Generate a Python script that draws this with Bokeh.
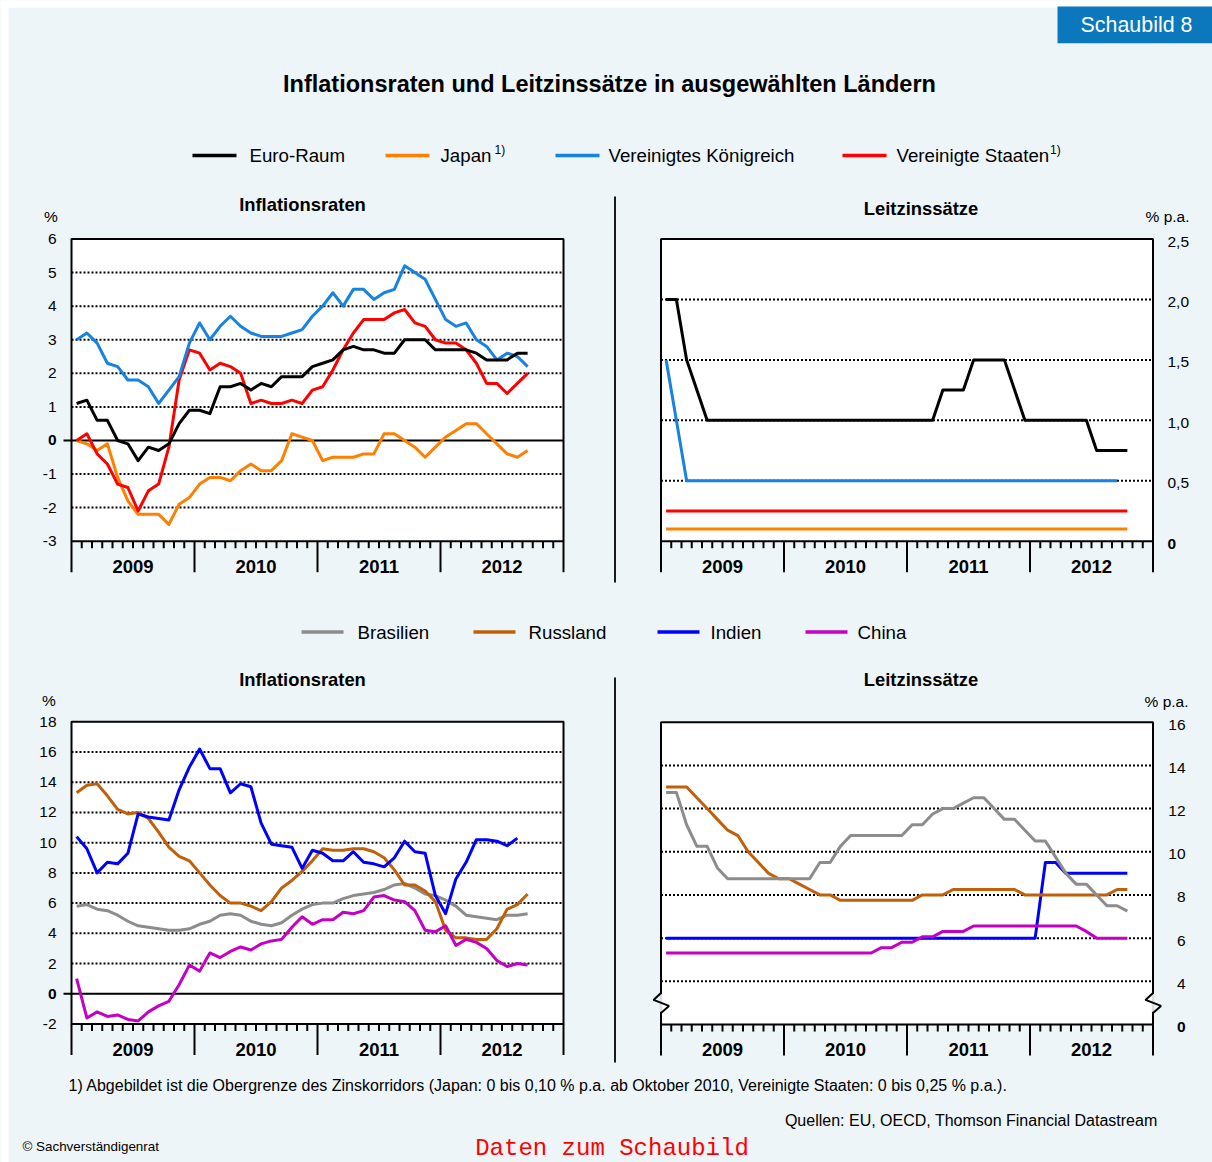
from bokeh.plotting import figure
from bokeh.models import Range1d
from bokeh.core.properties import value
from bokeh.embed import file_html
from bokeh.resources import INLINE

# ---------------------------------------------------------------- data
years = [2009, 2010, 2011, 2012, 2013]
year_labels = ["2009", "2010", "2011", "2012"]

# Inflation rates, monthly from January 2009 (%)
euro_infl = [1.1, 1.2, 0.6, 0.6, 0.0, -0.1, -0.6, -0.2, -0.3, -0.1, 0.5, 0.9,
             0.9, 0.8, 1.6, 1.6, 1.7, 1.5, 1.7, 1.6, 1.9, 1.9, 1.9, 2.2,
             2.3, 2.4, 2.7, 2.8, 2.7, 2.7, 2.6, 2.6, 3.0, 3.0, 3.0, 2.7,
             2.7, 2.7, 2.7, 2.6, 2.4, 2.4, 2.4, 2.6, 2.6]
japan_infl = [0.0, -0.1, -0.3, -0.1, -1.1, -1.8, -2.2, -2.2, -2.2, -2.5, -1.9, -1.7,
              -1.3, -1.1, -1.1, -1.2, -0.9, -0.7, -0.9, -0.9, -0.6, 0.2, 0.1, 0.0,
              -0.6, -0.5, -0.5, -0.5, -0.4, -0.4, 0.2, 0.2, 0.0, -0.2, -0.5, -0.2,
              0.1, 0.3, 0.5, 0.5, 0.2, -0.1, -0.4, -0.5, -0.3]
uk_infl = [3.0, 3.2, 2.9, 2.3, 2.2, 1.8, 1.8, 1.6, 1.1, 1.5, 1.9, 2.9,
           3.5, 3.0, 3.4, 3.7, 3.4, 3.2, 3.1, 3.1, 3.1, 3.2, 3.3, 3.7,
           4.0, 4.4, 4.0, 4.5, 4.5, 4.2, 4.4, 4.5, 5.2, 5.0, 4.8, 4.2,
           3.6, 3.4, 3.5, 3.0, 2.8, 2.4, 2.6, 2.5, 2.2]
us_infl = [0.0, 0.2, -0.4, -0.7, -1.3, -1.4, -2.1, -1.5, -1.3, -0.2, 1.8, 2.7,
           2.6, 2.1, 2.3, 2.2, 2.0, 1.1, 1.2, 1.1, 1.1, 1.2, 1.1, 1.5,
           1.6, 2.1, 2.7, 3.2, 3.6, 3.6, 3.6, 3.8, 3.9, 3.5, 3.4, 3.0,
           2.9, 2.9, 2.7, 2.3, 1.7, 1.7, 1.4, 1.7, 2.0]

# Policy rates, monthly from January 2009 (% p.a.)
euro_rate = [2.0, 2.0, 1.5, 1.25, 1.0, 1.0, 1.0, 1.0, 1.0, 1.0, 1.0, 1.0,
             1.0, 1.0, 1.0, 1.0, 1.0, 1.0, 1.0, 1.0, 1.0, 1.0, 1.0, 1.0,
             1.0, 1.0, 1.0, 1.25, 1.25, 1.25, 1.5, 1.5, 1.5, 1.5, 1.25, 1.0,
             1.0, 1.0, 1.0, 1.0, 1.0, 1.0, 0.75, 0.75, 0.75, 0.75]
japan_rate = [0.1, 0.1, 0.1, 0.1, 0.1, 0.1, 0.1, 0.1, 0.1, 0.1, 0.1, 0.1,
              0.1, 0.1, 0.1, 0.1, 0.1, 0.1, 0.1, 0.1, 0.1, 0.1, 0.1, 0.1,
              0.1, 0.1, 0.1, 0.1, 0.1, 0.1, 0.1, 0.1, 0.1, 0.1, 0.1, 0.1,
              0.1, 0.1, 0.1, 0.1, 0.1, 0.1, 0.1, 0.1, 0.1, 0.1]
uk_rate = [1.5, 1.0, 0.5, 0.5, 0.5, 0.5, 0.5, 0.5, 0.5, 0.5, 0.5, 0.5,
           0.5, 0.5, 0.5, 0.5, 0.5, 0.5, 0.5, 0.5, 0.5, 0.5, 0.5, 0.5,
           0.5, 0.5, 0.5, 0.5, 0.5, 0.5, 0.5, 0.5, 0.5, 0.5, 0.5, 0.5,
           0.5, 0.5, 0.5, 0.5, 0.5, 0.5, 0.5, 0.5, 0.5]
us_rate = [0.25, 0.25, 0.25, 0.25, 0.25, 0.25, 0.25, 0.25, 0.25, 0.25, 0.25, 0.25,
           0.25, 0.25, 0.25, 0.25, 0.25, 0.25, 0.25, 0.25, 0.25, 0.25, 0.25, 0.25,
           0.25, 0.25, 0.25, 0.25, 0.25, 0.25, 0.25, 0.25, 0.25, 0.25, 0.25, 0.25,
           0.25, 0.25, 0.25, 0.25, 0.25, 0.25, 0.25, 0.25, 0.25, 0.25]

brazil_infl = [5.8, 5.9, 5.6, 5.5, 5.2, 4.8, 4.5, 4.4, 4.3, 4.2, 4.2, 4.3,
               4.6, 4.8, 5.2, 5.3, 5.2, 4.8, 4.6, 4.5, 4.7, 5.2, 5.6, 5.9,
               6.0, 6.0, 6.3, 6.5, 6.6, 6.7, 6.9, 7.2, 7.3, 7.0, 6.6, 6.5,
               6.2, 5.8, 5.2, 5.1, 5.0, 4.9, 5.2, 5.2, 5.3]
russia_infl = [13.3, 13.8, 13.9, 13.1, 12.2, 11.9, 12.0, 11.6, 10.7, 9.7, 9.1, 8.8,
               8.0, 7.2, 6.5, 6.0, 6.0, 5.8, 5.5, 6.1, 7.0, 7.5, 8.1, 8.8,
               9.6, 9.5, 9.5, 9.6, 9.6, 9.4, 9.0, 8.2, 7.2, 7.2, 6.8, 6.1,
               4.2, 3.7, 3.7, 3.6, 3.6, 4.3, 5.6, 5.9, 6.6]
india_infl = [10.4, 9.6, 8.0, 8.7, 8.6, 9.3, 11.9, 11.7, 11.6, 11.5, 13.5, 15.0,
              16.2, 14.9, 14.9, 13.3, 13.9, 13.7, 11.3, 9.9, 9.8, 9.7, 8.3, 9.5,
              9.3, 8.8, 8.8, 9.4, 8.7, 8.6, 8.4, 9.0, 10.1, 9.4, 9.3, 6.5,
              5.3, 7.6, 8.7, 10.2, 10.2, 10.1, 9.8, 10.3]
china_infl = [1.0, -1.6, -1.2, -1.5, -1.4, -1.7, -1.8, -1.2, -0.8, -0.5, 0.6, 1.9,
              1.5, 2.7, 2.4, 2.8, 3.1, 2.9, 3.3, 3.5, 3.6, 4.4, 5.1, 4.6,
              4.9, 4.9, 5.4, 5.3, 5.5, 6.4, 6.5, 6.2, 6.1, 5.5, 4.2, 4.1,
              4.5, 3.2, 3.6, 3.4, 3.0, 2.2, 1.8, 2.0, 1.9]

brazil_rate = [12.75, 12.75, 11.25, 10.25, 10.25, 9.25, 8.75, 8.75, 8.75, 8.75, 8.75, 8.75,
               8.75, 8.75, 8.75, 9.5, 9.5, 10.25, 10.75, 10.75, 10.75, 10.75, 10.75, 10.75,
               11.25, 11.25, 11.75, 12.0, 12.0, 12.25, 12.5, 12.5, 12.0, 11.5, 11.5, 11.0,
               10.5, 10.5, 9.75, 9.0, 8.5, 8.5, 8.0, 7.5, 7.5, 7.25]
russia_rate = [13.0, 13.0, 13.0, 12.5, 12.0, 11.5, 11.0, 10.75, 10.0, 9.5, 9.0, 8.75,
               8.75, 8.5, 8.25, 8.0, 8.0, 7.75, 7.75, 7.75, 7.75, 7.75, 7.75, 7.75,
               7.75, 8.0, 8.0, 8.0, 8.25, 8.25, 8.25, 8.25, 8.25, 8.25, 8.25, 8.0,
               8.0, 8.0, 8.0, 8.0, 8.0, 8.0, 8.0, 8.0, 8.25, 8.25]
india_rate = [6.0, 6.0, 6.0, 6.0, 6.0, 6.0, 6.0, 6.0, 6.0, 6.0, 6.0, 6.0,
              6.0, 6.0, 6.0, 6.0, 6.0, 6.0, 6.0, 6.0, 6.0, 6.0, 6.0, 6.0,
              6.0, 6.0, 6.0, 6.0, 6.0, 6.0, 6.0, 6.0, 6.0, 6.0, 6.0, 6.0,
              6.0, 9.5, 9.5, 9.0, 9.0, 9.0, 9.0, 9.0, 9.0, 9.0]
china_rate = [5.31, 5.31, 5.31, 5.31, 5.31, 5.31, 5.31, 5.31, 5.31, 5.31, 5.31, 5.31,
              5.31, 5.31, 5.31, 5.31, 5.31, 5.31, 5.31, 5.31, 5.31, 5.56, 5.56, 5.81,
              5.81, 6.06, 6.06, 6.31, 6.31, 6.31, 6.56, 6.56, 6.56, 6.56, 6.56, 6.56,
              6.56, 6.56, 6.56, 6.56, 6.56, 6.31, 6.0, 6.0, 6.0, 6.0]

# axis ticks and their labels
tl_ticks = [6, 5, 4, 3, 2, 1, 0, -1, -2, -3]
tl_labels = ["6", "5", "4", "3", "2", "1", "0", "-1", "-2", "-3"]
tr_ticks = [2.5, 2.0, 1.5, 1.0, 0.5, 0]
tr_labels = ["2,5", "2,0", "1,5", "1,0", "0,5", "0"]
bl_ticks = [18, 16, 14, 12, 10, 8, 6, 4, 2, 0, -2]
bl_labels = ["18", "16", "14", "12", "10", "8", "6", "4", "2", "0", "-2"]
br_ticks = [16, 14, 12, 10, 8, 6, 4, 2]
br_labels = ["16", "14", "12", "10", "8", "6", "4", "0"]   # broken axis: lowest tick shown as 0

legend1_names = ["Euro-Raum", "Japan", "Vereinigtes Königreich", "Vereinigte Staaten"]
legend2_names = ["Brasilien", "Russland", "Indien", "China"]

# ---------------------------------------------------------------- style
BG = "#EDF5F8"
FONT = value("Liberation Sans")
MONO = value("Liberation Mono")
C_EURO, C_JAPAN, C_UK, C_US = "#000000", "#FF8000", "#1782E0", "#FF0000"
C_BRA, C_RUS, C_IND, C_CHN = "#8C8C8C", "#C0600A", "#0000FF", "#C400C4"

W, H = 1212, 1162
X0, X1, Y0, Y1 = 0, W, 0, H     # page coordinates of the canvas

p = figure(width=W, height=H, x_range=Range1d(X0, X1), y_range=Range1d(Y1, Y0),
           x_axis_location=None, y_axis_location=None, output_backend="svg",
           toolbar_location=None, min_border=0)
p.background_fill_color = BG
p.border_fill_color = BG
p.outline_line_color = None
p.grid.visible = False


def txt(x, y, s, size, bold=False, align="left", color="black", font=FONT, **kw):
    p.text(x=x, y=y, text=s, text_font=font, text_font_size=size,
           text_font_style="bold" if bold else "normal", text_align=align,
           text_baseline="middle", text_color=color, **kw)


def month_x(n):
    return [years[0] + (i + 0.5) / 12 for i in range(n)]


def panel(key, L, R, T, B, ymin, ymax, grid_vals, zero, series, ticks, labels,
          side, label_dx, label_align, label_dy, brk=None):
    ppx = (R - L) / (years[-1] - years[0])
    ppy = (B - T) / (ymax - ymin)
    p.extra_x_ranges[key] = Range1d(years[0] - (L - X0) / ppx, years[0] + (X1 - L) / ppx)
    p.extra_y_ranges[key] = Range1d(ymin - (Y1 - B) / ppy, ymax + (T - Y0) / ppy)
    kw = dict(x_range_name=key, y_range_name=key)
    # white plotting box
    p.quad(left=[years[0]], right=[years[-1]], bottom=[ymin], top=[ymax],
           fill_color="white", line_color=None, **kw)
    n = len(grid_vals)
    p.segment(x0=[years[0]] * n, x1=[years[-1]] * n, y0=grid_vals, y1=grid_vals,
              line_color="black", line_width=2, line_dash="2 2", **kw)
    if zero:
        p.segment(x0=[years[0] - 8 / ppx], x1=[years[-1]], y0=[0], y1=[0],
                  line_color="black", line_width=2, **kw)
    for vals, col in series:
        p.line(x=month_x(len(vals)), y=vals, line_color=col, line_width=3,
               line_join="round", **kw)
    p.quad(left=[years[0]], right=[years[-1]], bottom=[ymin], top=[ymax],
           fill_color=None, line_color="black", line_width=2, **kw)
    # month ticks and year ticks below the box
    mt = [y + m / 12 for y in years[:-1] for m in range(1, 12)]
    p.segment(x0=mt, x1=mt, y0=[ymin] * len(mt), y1=[ymin - 7 / ppy] * len(mt),
              line_color="black", line_width=2, **kw)
    p.segment(x0=years, x1=years, y0=[ymin] * len(years), y1=[ymin - 31 / ppy] * len(years),
              line_color="black", line_width=2, **kw)
    txt([y + 0.5 for y in years[:-1]], [ymin] * 4, year_labels, "18.5px", bold=True,
        align="center", y_offset=25, **kw)
    # tick labels
    xe = years[0] if side == "left" else years[-1]
    normal = [(t, s) for t, s in zip(ticks, labels) if s != "0"]
    bold = [(t, s) for t, s in zip(ticks, labels) if s == "0"]
    txt([xe] * len(normal), [t for t, _ in normal], [s for _, s in normal], "15.5px",
        align=label_align, x_offset=label_dx, y_offset=label_dy, **kw)
    txt([xe] * len(bold), [t for t, _ in bold], [s for _, s in bold], "15.5px", bold=True,
        align=label_align, x_offset=label_dx, y_offset=label_dy, **kw)
    if brk is not None:
        for xe2 in (years[0], years[-1]):
            p.segment(x0=[xe2], x1=[xe2], y0=[brk - 9 / ppy], y1=[brk + 9 / ppy],
                      line_color="#DDDDDD", line_width=2.5, **kw)
            zx = [xe2, xe2 - 7.5 / ppx, xe2 + 8 / ppx, xe2]
            zy = [brk + 10 / ppy, brk + 3 / ppy, brk - 3 / ppy, brk - 10 / ppy]
            p.line(x=zx, y=zy, line_color="black", line_width=2, **kw)


# ---------------------------------------------------------------- page edges
p.quad(left=[0], right=[8], top=[0], bottom=[H], fill_color="white", line_color=None)
p.quad(left=[0], right=[W], top=[0], bottom=[7], fill_color="white", line_color=None)

# ---------------------------------------------------------------- header
p.quad(left=[1057], right=[1212], top=[6], bottom=[42.7], fill_color="#0B77BD", line_color=None)
txt([1136], [24.5], ["Schaubild 8"], "21.4px", align="center", color="white")
txt([609], [83.5], ["Inflationsraten und Leitzinssätze in ausgewählten Ländern"], "23.5px",
    bold=True, align="center")

# legend 1
lg1_line = [192, 385, 555, 842]
lg1_text = [249, 440, 608, 896]
p.segment(x0=lg1_line, x1=[v + 44 for v in lg1_line], y0=[155] * 4, y1=[155] * 4,
          line_color=[C_EURO, C_JAPAN, C_UK, C_US], line_width=3.5)
txt(lg1_text, [155] * 4, legend1_names, "18.7px")
txt([494, 1049.5], [149.5, 149.5], ["1)", "1)"], "12px")

# legend 2
lg2_line = [301, 473, 657, 805]
lg2_text = [357, 528, 710, 857]
p.segment(x0=lg2_line, x1=[v + 42 for v in lg2_line], y0=[631.5] * 4, y1=[631.5] * 4,
          line_color=[C_BRA, C_RUS, C_IND, C_CHN], line_width=3.5)
txt(lg2_text, [631.5] * 4, legend2_names, "18.7px")

# panel titles and units
txt([302, 920.5, 302, 920.5], [203.5, 207.5, 679, 679],
    ["Inflationsraten", "Leitzinssätze", "Inflationsraten", "Leitzinssätze"], "18.4px",
    bold=True, align="center")
txt([50.5, 48.5], [215.5, 700], ["%", "%"], "15.5px", align="center")
txt([1189, 1188], [216, 700.5], ["% p.a.", "% p.a."], "15.5px", align="right")

# separators
p.segment(x0=[614.5, 614.5], x1=[614.5, 614.5], y0=[196, 677], y1=[582, 1062],
          line_color="#1A1A1A", line_width=2)

# ---------------------------------------------------------------- panels
panel("tl", 71, 563, 238.5, 540.7, -3, 6, [5, 4, 3, 2, 1, -1, -2], True,
      [(japan_infl, C_JAPAN), (us_infl, C_US), (uk_infl, C_UK), (euro_infl, C_EURO)],
      tl_ticks, tl_labels, "left", -15, "right", 0)
panel("tr", 660.5, 1152.5, 238.5, 540.7, 0, 2.5, [2.0, 1.5, 1.0, 0.5], False,
      [(japan_rate, C_JAPAN), (us_rate, C_US), (uk_rate, C_UK), (euro_rate, C_EURO)],
      tr_ticks, tr_labels, "right", 14.5, "left", 2.5)
panel("bl", 71, 563, 721.3, 1023.5, -2, 18, [16, 14, 12, 10, 8, 6, 4, 2], True,
      [(brazil_infl, C_BRA), (russia_infl, C_RUS), (china_infl, C_CHN), (india_infl, C_IND)],
      bl_ticks, bl_labels, "left", -15, "right", 0)
panel("br", 660.5, 1152.5, 721.7, 1024, 2, 16, [14, 12, 10, 8, 6, 4], False,
      [(india_rate, C_IND), (china_rate, C_CHN), (russia_rate, C_RUS), (brazil_rate, C_BRA)],
      br_ticks, br_labels, "right", 32.5, "right", 2.5, brk=3)

# ---------------------------------------------------------------- footer
txt([68], [1085], ["1) Abgebildet ist die Obergrenze des Zinskorridors (Japan: 0 bis 0,10 % p.a. "
                   "ab Oktober 2010, Vereinigte Staaten: 0 bis 0,25 % p.a.)."], "16px")
txt([1157], [1120], ["Quellen: EU, OECD, Thomson Financial Datastream"], "16px", align="right")
txt([22], [1146], ["© Sachverständigenrat"], "13.4px")
txt([611.5], [1148], ["Daten zum Schaubild"], "24px", align="center", color="#FF0000", font=MONO)

open("out.html", "w").write(file_html(p, INLINE, title="Schaubild 8"))
